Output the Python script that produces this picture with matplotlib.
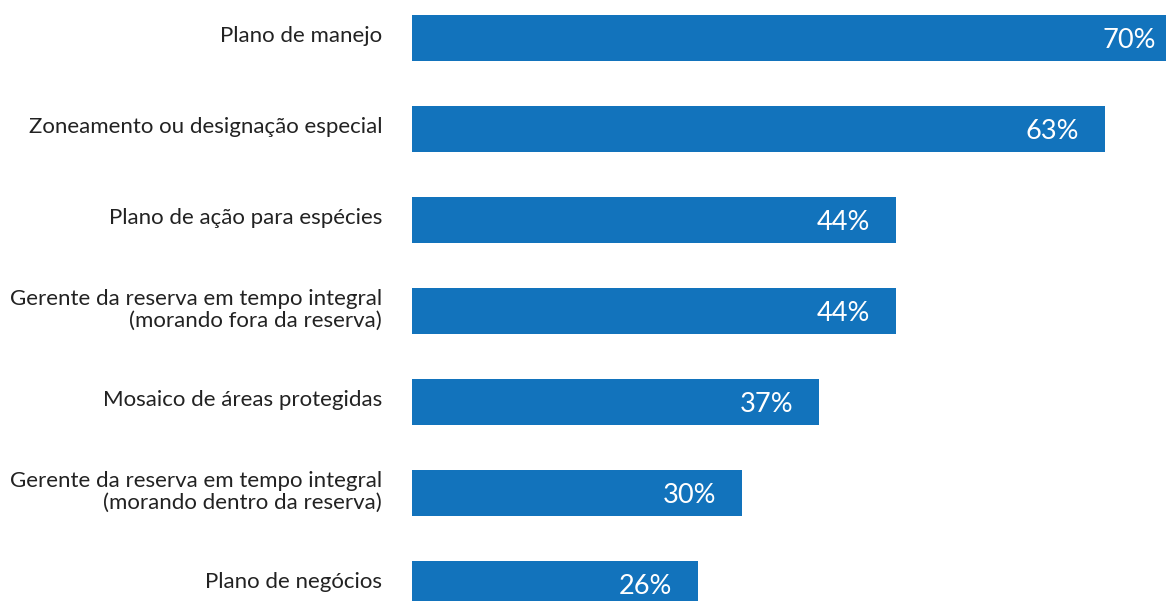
import matplotlib
matplotlib.use("Agg")
import matplotlib.pyplot as plt
import matplotlib.transforms as mtransforms

plt.rcParams['font.family'] = ['Lato', 'DejaVu Sans']

categorias = [
    "Plano de manejo",
    "Zoneamento ou designação especial",
    "Plano de ação para espécies",
    "Gerente da reserva em tempo integral\n(morando fora da reserva)",
    "Mosaico de áreas protegidas",
    "Gerente da reserva em tempo integral\n(morando dentro da reserva)",
    "Plano de negócios",
]
valores = [70, 63, 44, 44, 37, 30, 26]

cor_barra = "#1273bc"

fig = plt.figure(figsize=(11.66, 6.01), dpi=100)
# eixo encostado na borda direita, topo e base: barras extremas ficam cortadas
esq = 412 / 1166
ax = fig.add_axes([esq, 0.0, 1 - esq, 1.0])

pos = list(range(len(categorias)))
ax.barh(pos, valores, height=0.505, color=cor_barra)

escala = 11.0  # px por ponto percentual
passo = 91.0   # px entre barras
topo = 38.0    # centro da primeira barra (px)
ax.set_xlim(0, (1166 - 412) / escala)
ax.set_ylim((601 - topo) / passo, -topo / passo)

ax.set_yticks(pos)
ax.set_yticklabels(categorias, fontsize=16, color="#222222",
                   linespacing=1.1, ha="right")
ax.tick_params(axis="y", length=0, pad=21.5)
sobe = mtransforms.ScaledTranslation(0, 4 / 100, fig.dpi_scale_trans)
for t in ax.get_yticklabels():
    t.set_transform(t.get_transform() + sobe)
ax.set_xticks([])
for s in ax.spines.values():
    s.set_visible(False)

for p, v in zip(pos, valores):
    ax.annotate(f"{v}%", xy=(v, p), xytext=(-18.5, 0), textcoords="offset points",
                ha="right", va="center_baseline", color="white", fontsize=19.5,
                annotation_clip=False)

fig.savefig("out.png", dpi=100)
